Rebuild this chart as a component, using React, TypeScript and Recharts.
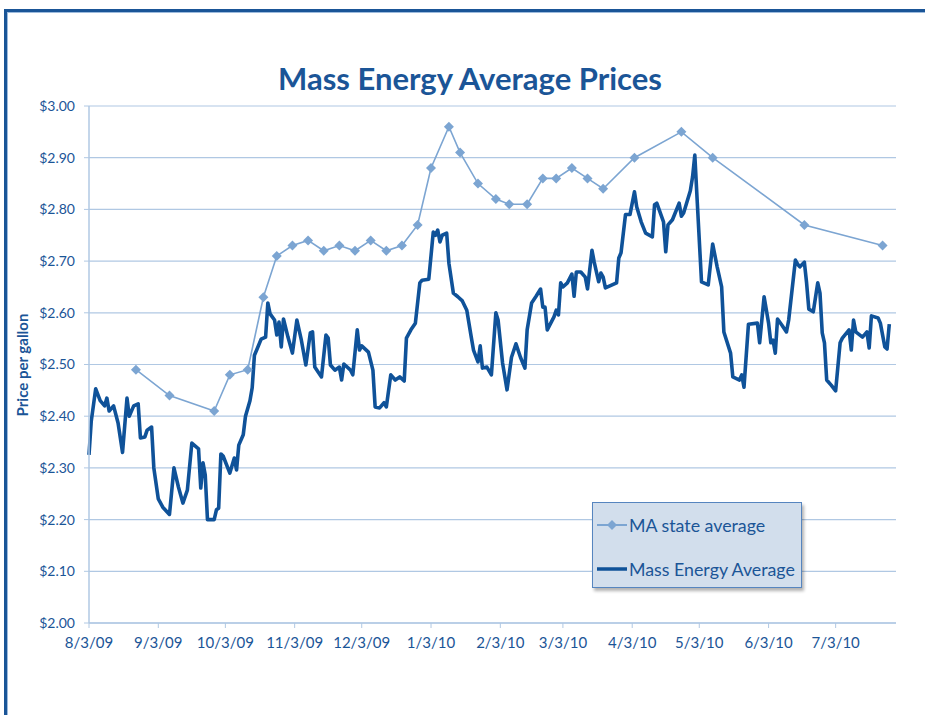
import React from 'react';
import { LineChart, Line, XAxis, YAxis, CartesianGrid } from 'recharts';

// x values are days counted from 8/3/09
const tickDays = [0, 31, 61, 92, 122, 153, 184, 212, 243, 273, 304, 334];
const tickLabels = ['8/3/09', '9/3/09', '10/3/09', '11/3/09', '12/3/09', '1/3/10', '2/3/10', '3/3/10', '4/3/10', '5/3/10', '6/3/10', '7/3/10'];
const priceTicks = [2.0, 2.1, 2.2, 2.3, 2.4, 2.5, 2.6, 2.7, 2.8, 2.9, 3.0];

// MA state average (weekly-ish survey)
const maDays = [21, 36, 56, 63, 71, 78, 84, 91, 98, 105, 112, 119, 126, 133, 140, 147, 153, 161, 166, 174, 182, 188, 196, 203, 209, 216, 223, 230, 244, 265, 279, 320, 355];
const maPrices = [2.49, 2.44, 2.41, 2.48, 2.49, 2.63, 2.71, 2.73, 2.74, 2.72, 2.73, 2.72, 2.74, 2.72, 2.73, 2.77, 2.88, 2.96, 2.91, 2.85, 2.82, 2.81, 2.81, 2.86, 2.86, 2.88, 2.86, 2.84, 2.9, 2.95, 2.9, 2.77, 2.73];

// Mass Energy daily average
const meDays = [
  0, 1, 3, 5, 7, 8, 9, 11, 13, 15, 17, 18, 20, 22, 23, 25, 26, 28, 29, 31,
  33, 36, 38, 40, 42, 44, 46, 49, 50, 51, 52, 53, 56, 57, 58, 59, 60, 63, 65, 66,
  67, 69, 70, 72, 73, 74, 75, 77, 79, 80, 81, 83, 84, 85, 86, 87, 89, 91, 93, 95,
  97, 99, 100, 101, 104, 106, 107, 108, 110, 112, 113, 114, 117, 118, 120, 121, 122, 125, 127, 128,
  130, 132, 133, 135, 137, 139, 141, 142, 144, 146, 148, 149, 152, 154, 155, 156, 157, 158, 160, 161,
  163, 165, 167, 169, 171, 172, 174, 175, 176, 178, 180, 182, 183, 185, 187, 189, 191, 193, 195, 196,
  198, 200, 202, 203, 204, 205, 208, 209, 210, 211, 212, 214, 216, 217, 218, 220, 222, 223, 225, 226,
  228, 229, 230, 231, 234, 236, 237, 238, 240, 242, 244, 245, 247, 249, 252, 253, 254, 257, 258, 259,
  261, 264, 265, 266, 269, 270, 271, 272, 274, 277, 279, 281, 283, 284, 287, 288, 291, 292, 293, 295,
  299, 300, 302, 304, 305, 306, 307, 308, 310, 312, 313, 316, 317, 318, 320, 321, 322, 324, 326, 327,
  328, 329, 330, 332, 334, 336, 337, 340, 341, 342, 343, 346, 348, 349, 350, 353, 354, 356, 357, 358,
];
const mePrices = [
  2.325, 2.39, 2.453, 2.43, 2.42, 2.435, 2.41, 2.42, 2.387, 2.33, 2.435, 2.4, 2.42, 2.424, 2.358, 2.36, 2.373, 2.379, 2.3, 2.24,
  2.224, 2.21, 2.3, 2.263, 2.232, 2.257, 2.348, 2.337, 2.261, 2.31, 2.286, 2.2, 2.2, 2.219, 2.222, 2.327, 2.323, 2.29, 2.319, 2.296,
  2.344, 2.364, 2.4, 2.43, 2.455, 2.518, 2.528, 2.549, 2.553, 2.619, 2.598, 2.586, 2.557, 2.582, 2.534, 2.588, 2.553, 2.522, 2.586, 2.547,
  2.499, 2.561, 2.563, 2.495, 2.476, 2.557, 2.551, 2.499, 2.489, 2.495, 2.47, 2.501, 2.489, 2.48, 2.567, 2.528, 2.536, 2.524, 2.489, 2.418,
  2.416, 2.426, 2.418, 2.48, 2.47, 2.476, 2.468, 2.551, 2.567, 2.58, 2.658, 2.663, 2.665, 2.756, 2.75, 2.76, 2.737, 2.75, 2.754, 2.696,
  2.638, 2.631, 2.623, 2.605, 2.553, 2.528, 2.505, 2.536, 2.493, 2.495, 2.48, 2.6, 2.586, 2.503, 2.451, 2.514, 2.54, 2.514, 2.493, 2.567,
  2.619, 2.632, 2.646, 2.611, 2.611, 2.567, 2.592, 2.605, 2.596, 2.658, 2.65, 2.658, 2.675, 2.632, 2.679, 2.679, 2.669, 2.646, 2.721, 2.698,
  2.66, 2.677, 2.669, 2.648, 2.654, 2.658, 2.706, 2.716, 2.79, 2.79, 2.834, 2.805, 2.776, 2.754, 2.747, 2.809, 2.812, 2.776, 2.718, 2.77,
  2.78, 2.812, 2.787, 2.793, 2.836, 2.863, 2.905, 2.822, 2.66, 2.654, 2.733, 2.689, 2.65, 2.563, 2.522, 2.476, 2.47, 2.48, 2.456, 2.578,
  2.58, 2.542, 2.631, 2.58, 2.542, 2.547, 2.522, 2.588, 2.576, 2.563, 2.586, 2.702, 2.694, 2.689, 2.698, 2.658, 2.607, 2.602, 2.658, 2.638,
  2.561, 2.542, 2.47, 2.46, 2.449, 2.542, 2.551, 2.567, 2.528, 2.586, 2.563, 2.553, 2.563, 2.532, 2.594, 2.59, 2.58, 2.534, 2.53, 2.578,
];

const maData = maDays.map((day, i) => ({ day, price: maPrices[i] }));
const meData = meDays.map((day, i) => ({ day, price: mePrices[i] }));

const TEXT_BLUE = '#1b5597';
const DARK_LINE = '#0f5299';
const LIGHT_LINE = '#7ca5d2';
const GRID = '#b0c8e3';

const Diamond = (props: any) => {
  const { cx, cy, index } = props;
  if (cx == null || cy == null) return <g key={index} />;
  const r = 5;
  return (
    <polygon
      key={index}
      points={`${cx},${cy - r} ${cx + r},${cy} ${cx},${cy + r} ${cx - r},${cy}`}
      fill={LIGHT_LINE}
    />
  );
};

const App: React.FC = () => {
  return (
    <div
      style={{
        position: 'absolute',
        left: 0,
        top: 0,
        width: 925,
        height: 715,
        background: '#fff',
        overflow: 'hidden',
        fontFamily: 'Lato, sans-serif',
      }}
    >
      <LineChart width={925} height={715} margin={{ top: 106, right: 29, bottom: 62, left: 0 }}>
        <CartesianGrid vertical={false} stroke={GRID} strokeWidth={1.2} />
        <XAxis
          dataKey="day"
          type="number"
          domain={[0, 361]}
          ticks={tickDays}
          interval={0}
          tickFormatter={(v: number) => tickLabels[tickDays.indexOf(v)]}
          height={30}
          tickSize={5}
          tickMargin={9}
          tick={{ fill: TEXT_BLUE, fontSize: 15 }}
          axisLine={{ stroke: GRID, strokeWidth: 1.5 }}
          tickLine={{ stroke: GRID }}
        />
        <YAxis
          type="number"
          domain={[2, 3]}
          ticks={priceTicks}
          interval={0}
          width={89}
          tickFormatter={(v: number) => `$${v.toFixed(2)}`}
          tickSize={5}
          tickMargin={9}
          tick={{ fill: TEXT_BLUE, fontSize: 14 }}
          axisLine={{ stroke: GRID, strokeWidth: 1.5 }}
          tickLine={{ stroke: GRID }}
        />
        <Line
          data={maData}
          dataKey="price"
          type="linear"
          stroke={LIGHT_LINE}
          strokeWidth={1.6}
          dot={Diamond}
          activeDot={false}
          isAnimationActive={false}
        />
        <Line
          data={meData}
          dataKey="price"
          type="linear"
          stroke={DARK_LINE}
          strokeWidth={3.6}
          strokeLinejoin="round"
          dot={false}
          activeDot={false}
          isAnimationActive={false}
        />
      </LineChart>

      {/* page frame */}
      <div
        style={{
          position: 'absolute',
          left: 4,
          top: 9,
          width: 1000,
          height: 1000,
          borderTop: '3px solid #1a5597',
          borderLeft: '3px solid #1a5597',
          boxShadow: 'inset 1px 1px 0 #9dbbdd',
        }}
      />

      <div
        style={{
          position: 'absolute',
          left: 0,
          top: 59,
          width: 940,
          textAlign: 'center',
          fontSize: 31,
          fontWeight: 700,
          color: TEXT_BLUE,
        }}
      >
        Mass Energy Average Prices
      </div>

      <div
        style={{
          position: 'absolute',
          left: 22,
          top: 365,
          transform: 'translate(-50%, -50%) rotate(-90deg)',
          whiteSpace: 'nowrap',
          fontSize: 15,
          fontWeight: 700,
          color: TEXT_BLUE,
        }}
      >
        Price per gallon
      </div>

      <div
        style={{
          position: 'absolute',
          left: 592,
          top: 502,
          width: 208,
          height: 84,
          background: '#d2deec',
          border: '1px solid #5685bf',
          boxShadow: '2px 3px 3px rgba(0,0,0,0.3)',
          color: TEXT_BLUE,
          fontSize: 17.8,
        }}
      >
        <div style={{ position: 'absolute', left: 4, top: 12, height: 20, display: 'flex', alignItems: 'center' }}>
          <svg width={30} height={20}>
            <line x1={0} y1={10} x2={30} y2={10} stroke={LIGHT_LINE} strokeWidth={2} />
            <polygon points="15,5 20,10 15,15 10,10" fill={LIGHT_LINE} />
          </svg>
          <span style={{ marginLeft: 2 }}>MA state average</span>
        </div>
        <div style={{ position: 'absolute', left: 4, top: 56, height: 20, display: 'flex', alignItems: 'center' }}>
          <svg width={30} height={20}>
            <line x1={0} y1={10} x2={30} y2={10} stroke={DARK_LINE} strokeWidth={3.5} />
          </svg>
          <span style={{ marginLeft: 2 }}>Mass Energy Average</span>
        </div>
      </div>
    </div>
  );
};

export default App;
